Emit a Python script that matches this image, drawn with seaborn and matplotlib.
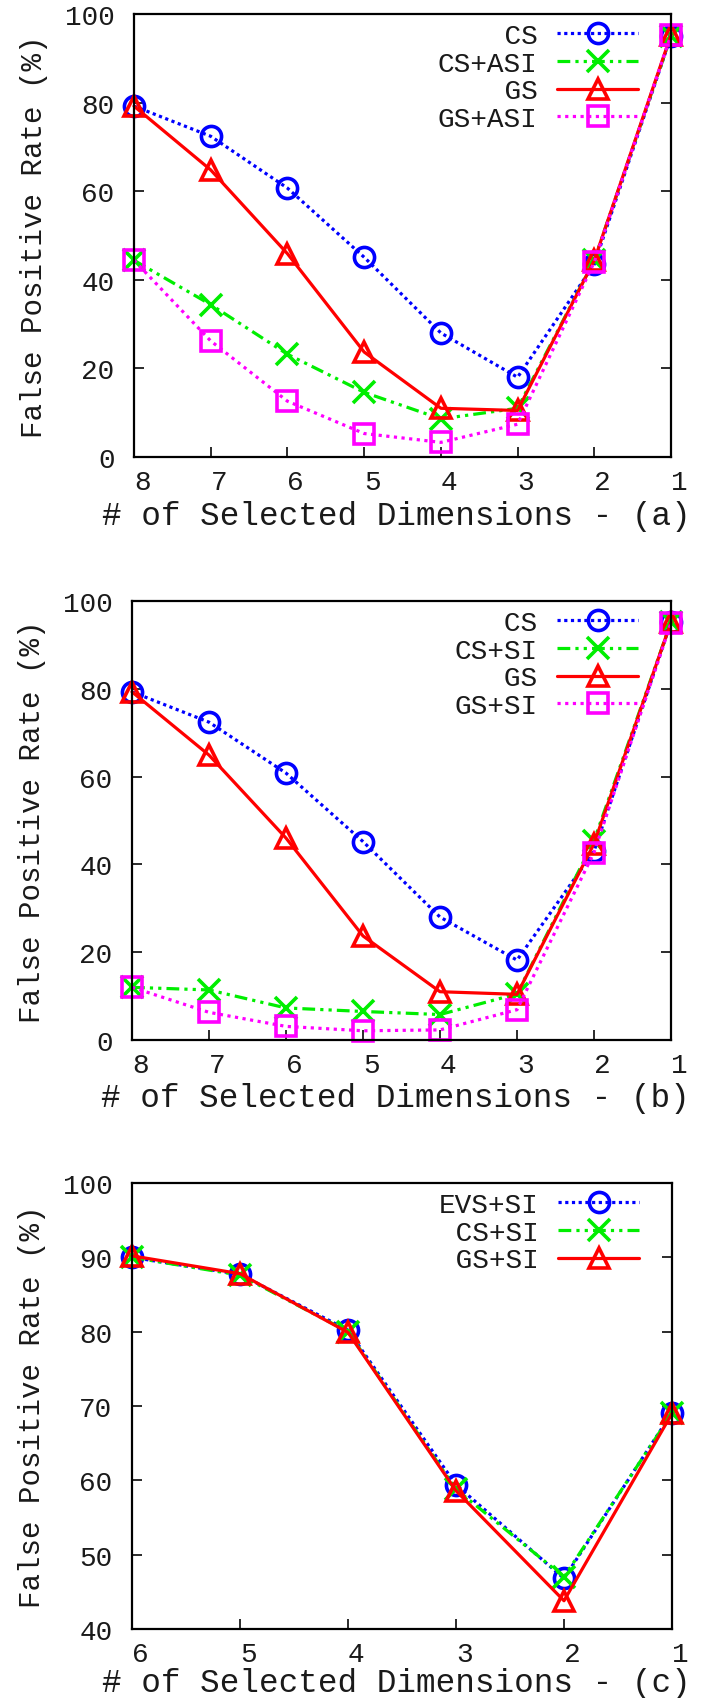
import matplotlib
matplotlib.use("Agg")
import matplotlib.pyplot as plt
import numpy as np
import pandas as pd
import seaborn as sns

# ---- data -----------------------------------------------------------------
dims_ab = ["8", "7", "6", "5", "4", "3", "2", "1"]
dims_c = ["6", "5", "4", "3", "2", "1"]

# panel (a)
a_cs = [79.2, 72.4, 60.7, 45.1, 28.0, 18.0, 43.5, 95.0]
a_cs_asi = [44.4, 34.4, 23.2, 14.6, 8.6, 11.0, 44.4, 95.0]
a_gs = [79.2, 64.8, 45.9, 23.7, 11.0, 10.5, 44.4, 95.3]
a_gs_asi = [44.4, 26.2, 12.6, 5.3, 3.3, 7.4, 44.0, 95.3]

# panel (b)
b_cs = [79.3, 72.4, 60.8, 45.2, 28.0, 18.2, 43.0, 95.2]
b_cs_si = [12.0, 11.4, 7.3, 6.5, 5.8, 10.5, 45.4, 95.2]
b_gs = [79.3, 64.9, 46.0, 23.7, 11.0, 10.4, 44.7, 95.2]
b_gs_si = [12.0, 6.3, 3.1, 2.1, 2.3, 6.9, 42.7, 95.0]

# panel (c)
c_evs_si = [90.0, 87.7, 80.2, 59.4, 46.8, 69.1]
c_cs_si = [90.0, 87.6, 80.0, 58.8, 47.0, 69.0]
c_gs_si = [90.2, 87.8, 79.9, 58.6, 43.8, 69.0]

# ---- styling --------------------------------------------------------------
sns.set_theme(style="white")
plt.rcParams["font.family"] = ["Liberation Mono", "DejaVu Sans Mono"]
TXT = "#1a1a1a"
plt.rcParams["text.color"] = TXT
plt.rcParams["axes.labelcolor"] = TXT
plt.rcParams["xtick.color"] = TXT
plt.rcParams["ytick.color"] = TXT

BLUE, GREEN, RED, MAGENTA = "#0000ff", "#00ee00", "#ff0000", "#ff00ff"
DOT = (0, (1, 1.1))
DASHDOTDOT = (0, (4, 1.6, 1, 1.6, 1, 1.6))
STYLE = {
    "CS": dict(color=BLUE, marker="o", linestyle=DOT),
    "EVS+SI": dict(color=BLUE, marker="o", linestyle=DOT),
    "CS+ASI": dict(color=GREEN, marker="x", linestyle=DASHDOTDOT),
    "CS+SI": dict(color=GREEN, marker="x", linestyle=DASHDOTDOT),
    "GS": dict(color=RED, marker="^", linestyle="-"),
    "GS+SI_c": dict(color=RED, marker="^", linestyle="-"),
    "GS+ASI": dict(color=MAGENTA, marker="s", linestyle=(0, (1, 1.4))),
    "GS+SI": dict(color=MAGENTA, marker="s", linestyle=(0, (1, 1.4))),
}

W, H = 702, 1699
fig = plt.figure(figsize=(W / 100, H / 100), dpi=100)


def px_axes(left, right, top, bottom):
    return fig.add_axes([left / W, (H - bottom) / H, (right - left) / W, (bottom - top) / H])


def draw_panel(ax, cats, series, ylim, yticks, tag, px_h, px_w, xlabel_drop=58):
    pos = np.arange(len(cats))
    for name, key, vals in series:
        st = STYLE[key]
        df = pd.DataFrame({"pos": pos, "fpr": vals})
        sns.lineplot(
            data=df, x="pos", y="fpr", ax=ax, label=name, estimator=None, sort=False,
            color=st["color"], linestyle=st["linestyle"], linewidth=2.3,
            marker=st["marker"], markersize=14.5 if st["marker"] != "x" else 15.5,
            markerfacecolor="none", markeredgecolor=st["color"], markeredgewidth=2.6,
            clip_on=False,
        )
    ax.set_xlim(0, len(cats) - 1)
    ax.set_ylim(*ylim)
    ax.set_xticks(pos)
    # tick numbers sit just to the right of their tick marks
    ax.set_xticklabels(cats, ha="left")
    ax.set_yticks(yticks)
    ax.set_yticklabels([str(t) for t in yticks])
    ax.tick_params(axis="both", direction="in", length=7, width=1.3, labelsize=20)
    ax.tick_params(axis="x", pad=9, top=False, bottom=True)
    ax.tick_params(axis="y", pad=14, left=True, right=True)
    for sp in ax.spines.values():
        sp.set_linewidth(1.6)
        sp.set_color("black")
    ax.set_xlabel("# of Selected Dimensions - (%s)" % tag, fontsize=23.5, va="center")
    ax.xaxis.set_label_coords(0.489, -xlabel_drop / px_h)
    ax.set_ylabel("False Positive Rate (%)", fontsize=21, va="center")
    ax.yaxis.set_label_coords(-100 / px_w, 0.5)

    handles, labels = ax.get_legend_handles_labels()
    width = max(len(l) for l in labels)
    labels = [l.rjust(width) for l in labels]
    ax.legend(
        handles, labels, loc="upper right",
        bbox_to_anchor=(1 - 33 / px_w, 1 - 9 / px_h),
        frameon=False, markerfirst=False, fontsize=20,
        handlelength=2.9, handletextpad=0.72, labelspacing=0.06,
        borderpad=0, borderaxespad=0,
    )


ax_a = px_axes(134, 671, 15, 458)
draw_panel(
    ax_a, dims_ab,
    [("CS", "CS", a_cs), ("CS+ASI", "CS+ASI", a_cs_asi),
     ("GS", "GS", a_gs), ("GS+ASI", "GS+ASI", a_gs_asi)],
    (0, 100), [0, 20, 40, 60, 80, 100], "a", 443, 537,
)

ax_b = px_axes(132, 671, 602, 1041)
draw_panel(
    ax_b, dims_ab,
    [("CS", "CS", b_cs), ("CS+SI", "CS+SI", b_cs_si),
     ("GS", "GS", b_gs), ("GS+SI", "GS+SI", b_gs_si)],
    (0, 100), [0, 20, 40, 60, 80, 100], "b", 439, 539,
)

ax_c = px_axes(132, 672, 1184, 1630)
draw_panel(
    ax_c, dims_c,
    [("EVS+SI", "EVS+SI", c_evs_si), ("CS+SI", "CS+SI", c_cs_si),
     ("GS+SI", "GS+SI_c", c_gs_si)],
    (40, 100), [40, 50, 60, 70, 80, 90, 100], "c", 446, 540, xlabel_drop=54,
)

fig.savefig("out.png", dpi=100, facecolor="white")
